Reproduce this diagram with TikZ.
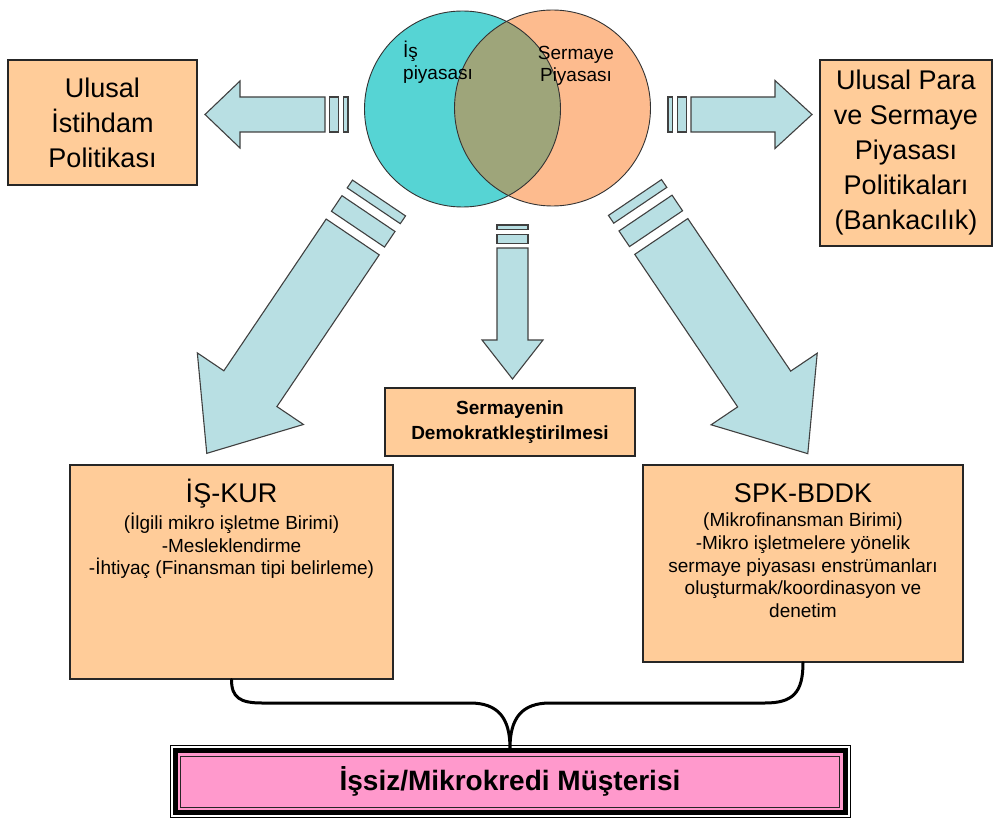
\documentclass[tikz,border=0pt]{standalone}
\usepackage{fontspec}
\setmainfont{Liberation Sans}
\usepackage{tikz}
\usetikzlibrary{positioning, calc}
\definecolor{MkTeal}{HTML}{56D4D4}
\definecolor{MkOrange}{HTML}{FDBB8E}
\definecolor{MkOverlap}{HTML}{9EA57A}
\definecolor{MkArrow}{HTML}{B8DFE3}
\definecolor{MkPeach}{HTML}{FFCC99}
\definecolor{MkPink}{HTML}{FF99CC}
\newcommand{\mkvenn}{\fontsize{19}{22}\selectfont}
\newcommand{\mkbig}{\fontsize{27}{35}\selectfont}
\newcommand{\mktitle}{\fontsize{27}{30}\selectfont}
\newcommand{\mksmall}{\fontsize{19}{22.6}\selectfont}
\newcommand{\mkmid}{\bfseries\fontsize{19}{25}\selectfont}
\newcommand{\mkclient}{\bfseries\fontsize{28}{32}\selectfont}
\tikzset{
  peachbox/.style={draw=black!85, fill=MkPeach, line width=1.2pt, inner sep=0pt},
  blockarrow/.style={draw=black!75, fill=MkArrow, line width=1.1pt, line join=miter},
  vennline/.style={draw=black!80, line width=0.9pt},
  joinbrace/.style={line width=3pt, line cap=round},
}
%% striped block arrow: origin, angle, length, shaft half width, head half width, head length, stripe unit
\newcommand{\stripedarrow}[7]{%
  \begin{scope}[shift={#1}, rotate=#2]
    \draw[blockarrow] (0,-#4) rectangle (#7,#4);
    \draw[blockarrow] (2*#7,-#4) rectangle (4*#7,#4);
    \draw[blockarrow] (5*#7,-#4) -- (#3-#6,-#4) -- (#3-#6,-#5) -- (#3,0)
      -- (#3-#6,#5) -- (#3-#6,#4) -- (5*#7,#4) -- cycle;
  \end{scope}}

\begin{document}
\begin{tikzpicture}[x=1pt, y=-1pt]
  \useasboundingbox (0,0) rectangle (999,821);
  %% Venn diagram of the two markets
  \fill[MkTeal] (462.5,109) circle (98pt);
  \fill[MkOrange] (552.5,108) circle (98pt);
  \begin{scope}
    \clip (462.5,109) circle (98pt);
    \fill[MkOverlap] (552.5,108) circle (98pt);
  \end{scope}
  \draw[vennline] (462.5,109) circle (98pt);
  \draw[vennline] (552.5,108) circle (98pt);
  \node[font=\mkvenn, anchor=north west, align=left, inner sep=0pt] (labour) at (403,41) {İş\\piyasası};
  \node[font=\mkvenn, anchor=north, align=center, inner sep=0pt] (capital) at (576,46) {Sermaye\\Piyasası};
  %% Striped arrows out of the Venn diagram
  \stripedarrow{(348,114.5)}{180}{143}{17.5}{33.5}{35}{4.6}
  \stripedarrow{(668,114.5)}{0}{144}{17.5}{34}{37}{4.6}
  \stripedarrow{(512.5,225)}{-90}{154}{15.5}{30.5}{39}{4.6}
  \stripedarrow{(379,198)}{-124}{308}{32}{64}{78}{9.4}
  \stripedarrow{(635,197.5)}{-56}{309}{32}{64}{78}{9.4}
  %% Policy boxes
  \node[peachbox, minimum width=189pt, minimum height=125pt, align=center, font=\mkbig] (employment) at (102.5,122.5) {Ulusal\\İstihdam\\Politikası};
  \node[peachbox, minimum width=172pt, minimum height=186pt, align=center, font=\mkbig] (banking) at (906,153) {Ulusal Para\\ve Sermaye\\Piyasası\\Politikaları\\(Bankacılık)};
  \node[peachbox, minimum width=250pt, minimum height=68pt, align=center, font=\mkmid] (democ) at (510,422) {Sermayenin\\Demokratkleştirilmesi};
  %% Institution boxes
  \node[peachbox, minimum width=323pt, minimum height=214pt] (iskur) at (231.5,572) {};
  \node[anchor=base, font=\mktitle, inner sep=0pt] (iskurtitle) at (231.5,502) {İŞ-KUR};
  \node[anchor=north, align=center, font=\mksmall, inner sep=0pt] (iskurbody) at (231.5,513)
    {(İlgili mikro işletme Birimi)\\-Mesleklendirme\\-İhtiyaç (Finansman tipi belirleme)};
  \node[peachbox, minimum width=320pt, minimum height=197pt] (spk) at (803,563.5) {};
  \node[anchor=base, font=\mktitle, inner sep=0pt] (spktitle) at (803,502) {SPK-BDDK};
  \node[anchor=north, align=center, font=\mksmall, inner sep=0pt] (spkbody) at (803,513)
    {(Mikrofinansman Birimi)\\-Mikro işletmelere yönelik\\sermaye piyasası enstrümanları\\oluşturmak/koordinasyon ve\\denetim};
  %% Client box with double frame
  \node[draw=black, fill=MkPink, line width=5pt, minimum width=670pt, minimum height=62pt, font=\mkclient] (client) at (510,781.5) {İşsiz/Mikrokredi Müşterisi};
  \draw[line width=1pt] ([shift={(-2.5pt,2.5pt)}]client.north west) rectangle ([shift={(2.5pt,-2.5pt)}]client.south east);
  \draw[black!85, line width=0.8pt] ([shift={(8pt,-8pt)}]client.north west) rectangle ([shift={(-8pt,8pt)}]client.south east);
  %% Brace joining the two institutions
  \draw[joinbrace] (iskur.south) .. controls +(0,18) and +(-22,0) .. (262,703) -- (470,703)
    .. controls +(28,0) and +(0,-30) .. (client.north)
    .. controls +(0,-30) and +(-28,0) .. (550,703) -- (765,703)
    .. controls +(28,0) and +(0,30) .. (spk.south);
\end{tikzpicture}
\end{document}
